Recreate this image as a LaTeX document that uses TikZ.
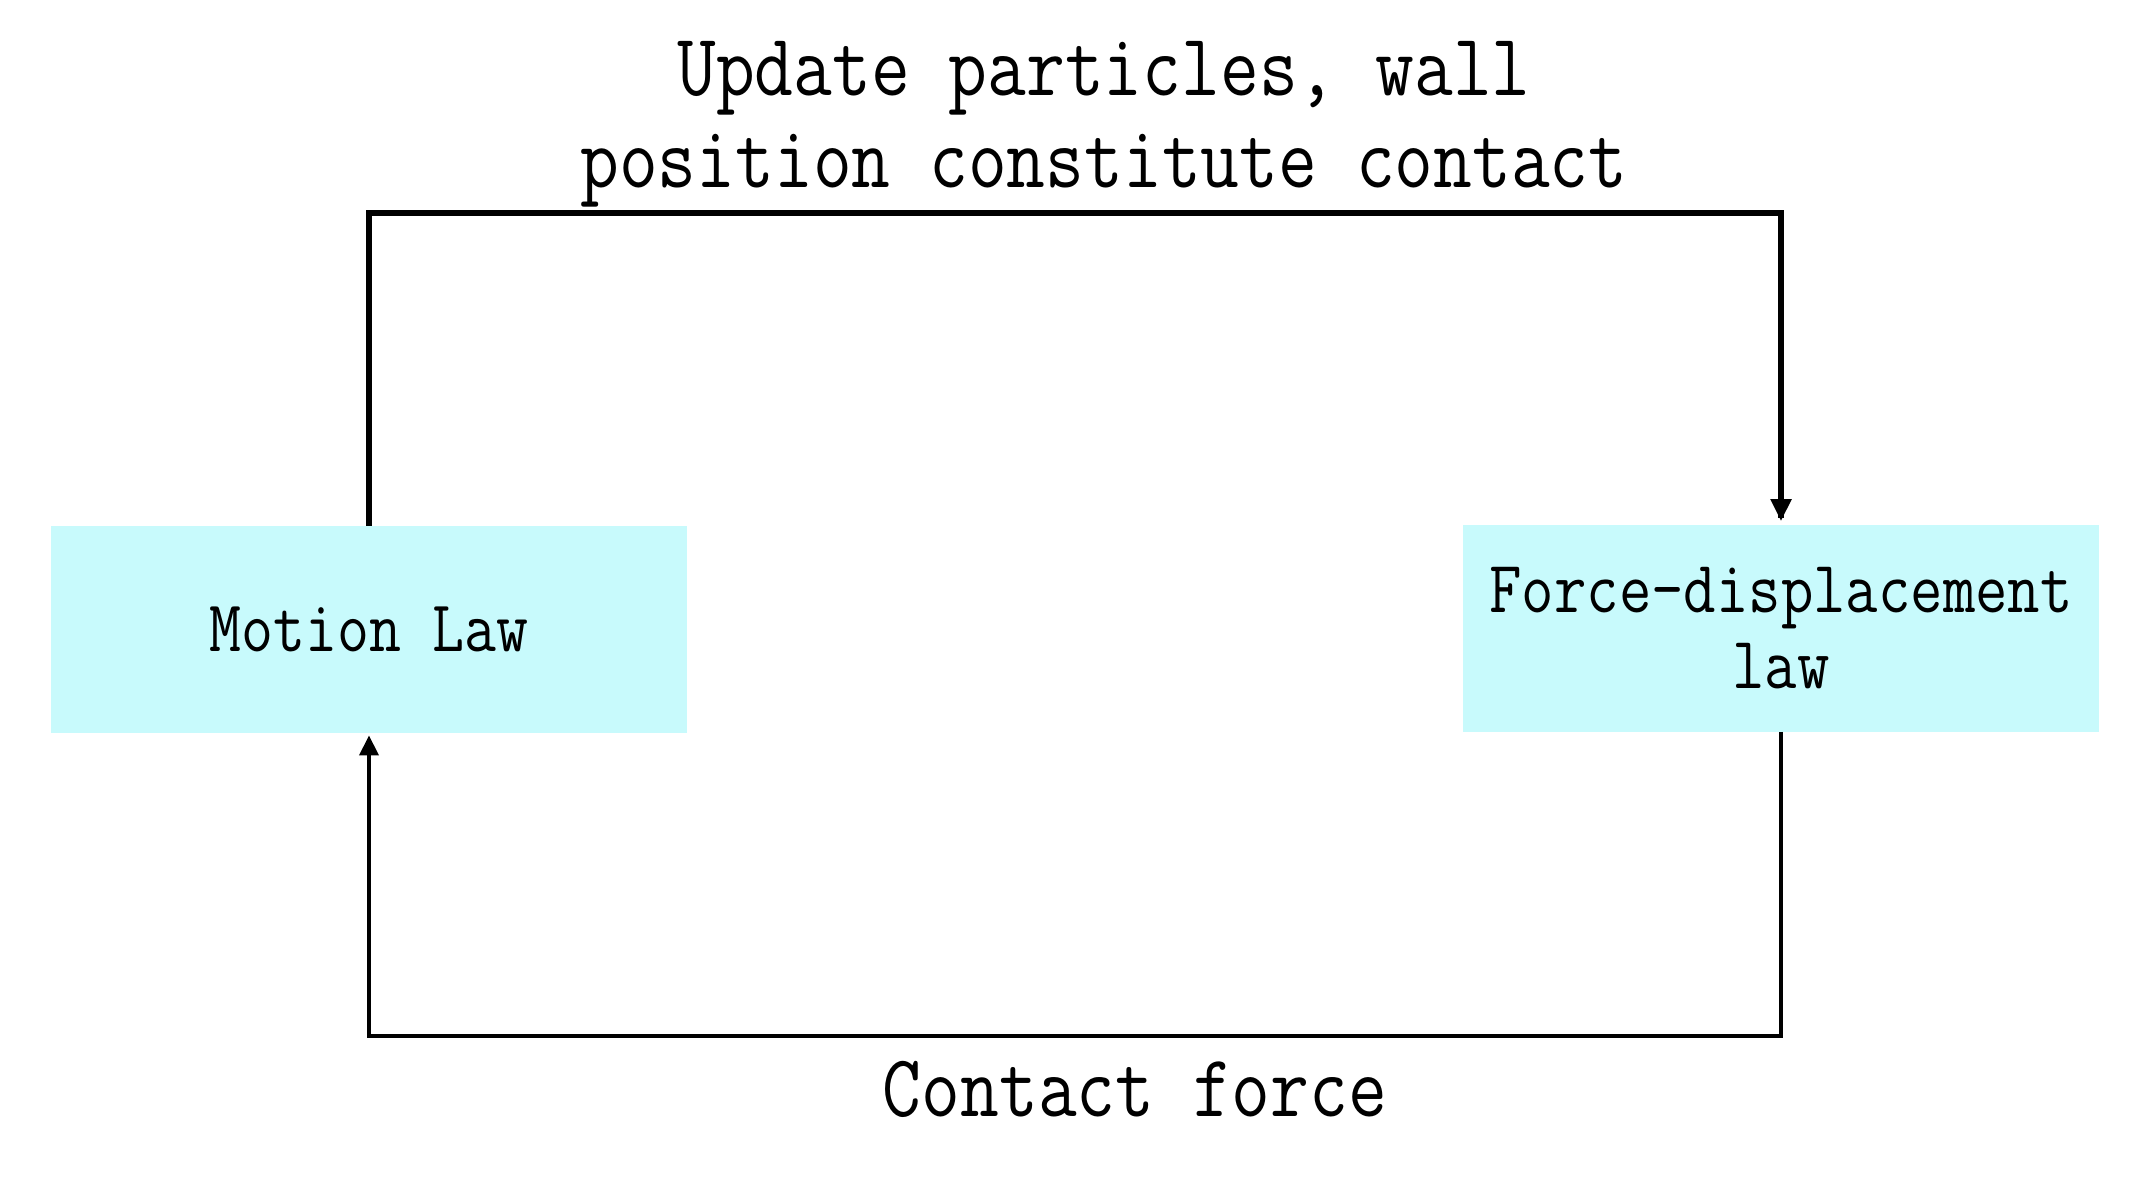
\documentclass[tikz,border=0pt]{standalone}
\usepackage{fontspec}
\newfontfamily\monof[FakeStretch=0.85]{Latin Modern Mono}
\usetikzlibrary{arrows.meta}
\definecolor{boxcyan}{RGB}{200,250,252}
\begin{document}
\begin{tikzpicture}[x=0.5pt,y=-0.5pt,
  lawbox/.style={fill=boxcyan, draw=none, minimum width=318pt, minimum height=103.5pt, inner sep=0pt, align=center, font=\monof\fontsize{37}{38}\selectfont},
  flowlabel/.style={inner sep=0pt, align=center, font=\monof\fontsize{44.3}{46}\selectfont},
  thickline/.style={line width=2.6pt},
  thinline/.style={line width=1.8pt},
  tip/.style={-{Triangle[length=11pt,width=10pt]}}
]
\useasboundingbox (0,0) rectangle (2139,1179);
\fill[white] (0,0) rectangle (2139,1179);

\node[lawbox] (motion) at (369,629.5) {{\fontsize{36.5}{38}\selectfont Motion Law}};
\node[lawbox] (force) at (1781,628) {Force-displacement\\law};

\coordinate (tl) at (369,213);
\coordinate (tr) at (1781,213);
\coordinate (bl) at (369,1036);
\coordinate (br) at (1781,1036);

\draw[thickline] (motion.north) -- (tl) -- (tr) -- ([yshift=3pt]force.north);
\draw[tip, line width=2.6pt] ([yshift=-40pt]tr) -- ([yshift=1.5pt]force.north);
\draw[thinline] (force.south) -- (br) -- (bl) -- ([yshift=10pt]bl);
\draw[line width=1.8pt, -{Triangle[length=10pt,width=9.5pt]}] ([yshift=8pt]bl) -- ([yshift=-1pt]motion.south);

\node[flowlabel, anchor=base] (top) at (1104,187) {Update particles, wall\\position constitute contact};
\node[flowlabel, anchor=base] (bottom) at (1135,1116) {Contact force};
\end{tikzpicture}
\end{document}
